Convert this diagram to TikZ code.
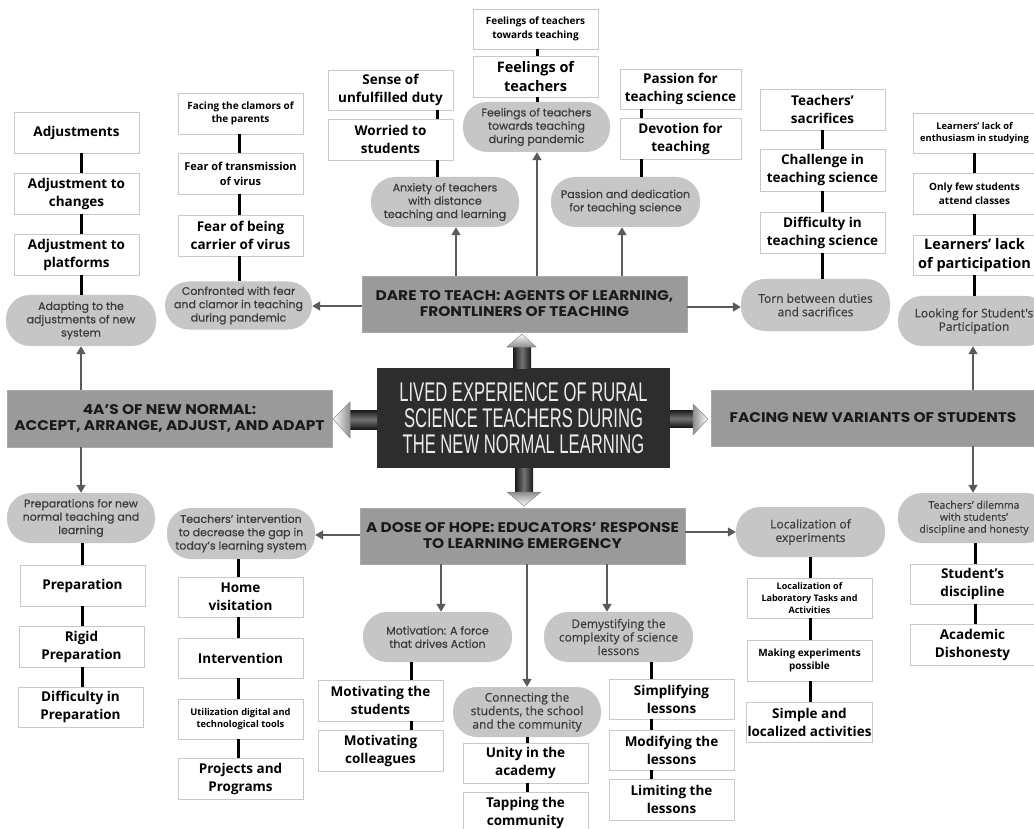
\documentclass[tikz,border=0pt]{standalone}
\usepackage{fontspec}
\setmainfont{Open Sans}
\newfontfamily\pop{Poppins}[FakeBold=0.5]
\newfontfamily\osm{Open Sans}[FakeBold=0.35]
\newfontfamily\hdrfont{Poppins}[FakeStretch=1.1]
\newfontfamily\cond{Liberation Sans}[FakeStretch=0.615]
\usetikzlibrary{arrows.meta}
\definecolor{boxline}{HTML}{C8C8C8}
\definecolor{ovalfill}{HTML}{C6C6C6}
\definecolor{ovaltext}{HTML}{3C3C3C}
\definecolor{hdrfill}{HTML}{9A9A9A}
\definecolor{hdrtext}{HTML}{1A1A1A}
\definecolor{corefill}{HTML}{2D2D2D}
\definecolor{arrcol}{HTML}{5A5A5A}
\tikzset{
  box/.style={draw=boxline, fill=white, line width=0.8pt, inner sep=1pt, align=center,
    minimum width=125pt, minimum height=41pt, font=\bfseries\fontsize{13.5}{18}\selectfont},
  bnine/.style={font=\bfseries\fontsize{9.3}{12.5}\selectfont},
  bten/.style={font=\bfseries\fontsize{10}{13.5}\selectfont},
  beleven/.style={font=\bfseries\fontsize{11}{15}\selectfont},
  bfourteen/.style={font=\bfseries\fontsize{14.5}{18.5}\selectfont},
  oval/.style={fill=ovalfill, rounded corners=24pt, inner sep=1pt, align=center, text=ovaltext,
    minimum height=50pt, font=\pop\fontsize{11}{13.3}\selectfont},
  ovalo/.style={oval, font=\osm\fontsize{12}{13.5}\selectfont},
  hdr/.style={fill=hdrfill, draw=hdrfill!85!white, line width=0.6pt, inner sep=1pt, align=center,
    text=hdrtext, minimum height=56pt, minimum width=325pt, font=\hdrfont\bfseries\fontsize{14}{16}\selectfont},
  corebox/.style={fill=corefill, inner sep=1pt, align=center, text=white!92!black,
    minimum width=293pt, minimum height=100pt, font=\cond\fontsize{27}{26}\selectfont},
  link/.style={line width=3pt, black},
  arr/.style={line width=1.4pt, arrcol, -{Triangle[width=9pt,length=8pt]}},
}
\begin{document}
\begin{tikzpicture}[x=1pt,y=-1pt]
\clip (0,0) rectangle (1034,829);
\fill[white] (0,0) rectangle (1034,829);

% ---------- main boxes
\node[hdr] (dare) at (524.5,304) {DARE TO TEACH: AGENTS OF LEARNING,\\FRONTLINERS OF TEACHING};
\node[hdr, minimum height=57pt] (fourA) at (169.5,418.5) {4A’S OF NEW NORMAL:\\ACCEPT, ARRANGE, ADJUST, AND ADAPT};
\node[hdr, minimum width=324pt] (facing) at (873,418) {FACING NEW VARIANTS OF STUDENTS};
\node[hdr] (dose) at (522.5,536) {A DOSE OF HOPE: EDUCATORS’ RESPONSE\\TO LEARNING EMERGENCY};
\node[corebox] (core) at (523.5,418) {LIVED EXPERIENCE OF RURAL\\SCIENCE TEACHERS DURING\\THE NEW NORMAL LEARNING};

% ---------- block arrows from the core
% up
\shade[left color=black!90, right color=black!90, middle color=black!55] (513,347) rectangle (531,368);
\shade[top color=white, bottom color=black!45, draw=black!45, line width=0.5pt] (507,347) -- (522,334) -- (536,347) -- cycle;
% down
\shade[left color=black!90, right color=black!90, middle color=black!55] (515,468) rectangle (533,492);
\shade[bottom color=white, top color=black!45, draw=black!45, line width=0.5pt] (507,492) -- (524,506) -- (541,492) -- cycle;
% left
\shade[top color=black!90, bottom color=black!90, middle color=black!55] (350,410) rectangle (377,429);
\shade[left color=white, right color=black!45, draw=black!45, line width=0.5pt] (350,402) -- (333,419) -- (350,438) -- cycle;
% right
\shade[top color=black!90, bottom color=black!90, middle color=black!55] (670,410) rectangle (693,427);
\shade[right color=white, left color=black!45, draw=black!45, line width=0.5pt] (693,404) -- (708,419) -- (693,435) -- cycle;

% ---------- ovals
\node[oval, minimum width=150pt, minimum height=51pt] (adapting) at (81,320.5) {Adapting to the\\adjustments of new\\system};
\node[oval, minimum width=147pt, minimum height=48pt] (confronted) at (238.5,305.5) {Confronted with fear\\and clamor in teaching\\during pandemic};
\node[oval, minimum width=148pt] (anxiety) at (445,202) {Anxiety of teachers\\with distance\\teaching and learning};
\node[oval, minimum width=147pt] (feelo) at (536.5,127) {Feelings of teachers\\towards teaching\\during pandemic};
\node[oval, minimum width=149pt] (passo) at (625.5,202) {Passion and dedication\\for teaching science};
\node[ovalo, minimum width=149pt, minimum height=52pt] (torn) at (815.5,305) {Torn between duties\\and sacrifices};
\node[ovalo, minimum width=152pt] (looking) at (974,321) {Looking for Student's\\Participation};
\node[oval, minimum width=148pt] (preps) at (81,518) {Preparations for new\\normal teaching and\\learning};
\node[oval, minimum width=148pt, minimum height=51pt] (intervo) at (241,533.5) {Teachers’ intervention\\to decrease the gap in\\today’s learning system};
\node[oval, minimum width=149pt] (motiv) at (437.5,637) {Motivation: A force\\that drives Action};
\node[ovalo, minimum width=148pt] (connect) at (527,712) {Connecting the\\students, the school\\and the community};
\node[ovalo, minimum width=149pt] (demyst) at (618.5,637) {Demystifying the\\complexity of science\\lessons};
\node[ovalo, minimum width=149pt] (localo) at (810.5,532) {Localization of\\experiments};
\node[ovalo, minimum width=152pt, font=\osm\fontsize{10.5}{12}\selectfont] (dilemma) at (974,518) {Teachers’ dilemma\\with students’\\discipline and honesty};

% ---------- boxes
\node[box] (adj1) at (76.5,132.5) {Adjustments};
\node[box] (adj2) at (76.5,193.5) {Adjustment to\\changes};
\node[box] (adj3) at (76.5,254.5) {Adjustment to\\platforms};

\node[box, bten] (fear1) at (240.5,113.5) {Facing the clamors of\\the parents};
\node[box, beleven] (fear2) at (240.5,173.5) {Fear of transmission\\of virus};
\node[box] (fear3) at (240.5,235.5) {Fear of being\\carrier of virus};

\node[box, minimum height=40pt] (sense) at (390.5,90) {Sense of\\unfulfilled duty};
\node[box] (worried) at (390.5,139.5) {Worried to\\students};

\node[box, bten, minimum height=40pt] (feel1) at (535.5,29) {Feelings of teachers\\towards teaching};
\node[box, bfourteen] (feel2) at (535.5,76.5) {Feelings of\\teachers};

\node[box, minimum width=121pt, minimum height=40pt] (pass1) at (680.5,89) {Passion for\\teaching science};
\node[box, minimum width=121pt] (pass2) at (680.5,138.5) {Devotion for\\teaching};

\node[box] (sac1) at (822.5,109.5) {Teachers’\\sacrifices};
\node[box, minimum height=42pt] (sac2) at (822.5,170) {Challenge in\\teaching science};
\node[box] (sac3) at (822.5,232.5) {Difficulty in\\teaching science};

\node[box, bnine, minimum width=123pt, minimum height=40pt] (lrn1) at (974.5,133) {Learners’ lack of\\enthusiasm in studying};
\node[box, bten, minimum width=123pt] (lrn2) at (974.5,193.5) {Only few students\\attend classes};
\node[box, bfourteen, minimum width=123pt, minimum height=40pt] (lrn3) at (974.5,255) {Learners’ lack\\of participation};

\node[box] (prep1) at (82.5,585.5) {Preparation};
\node[box] (prep2) at (81.5,646.5) {Rigid\\Preparation};
\node[box, minimum height=40pt] (prep3) at (80.5,707) {Difficulty in\\Preparation};

\node[box, minimum height=40pt] (int1) at (240.5,597) {Home\\visitation};
\node[box, minimum height=40pt] (int2) at (240.5,658) {Intervention};
\node[box, bnine, minimum height=40pt] (int3) at (240.5,719) {Utilization digital and\\technological tools};
\node[box] (int4) at (240.5,778.5) {Projects and\\Programs};

\node[box] (mot1) at (380.5,700.5) {Motivating the\\students};
\node[box] (mot2) at (380.5,750.5) {Motivating\\colleagues};

\node[box, minimum height=40pt] (uni1) at (525.5,763) {Unity in the\\academy};
\node[box, minimum height=42pt] (uni2) at (525.5,813) {Tapping the\\community};

\node[box, minimum height=40pt] (sim1) at (671.5,699) {Simplifying\\lessons};
\node[box, minimum height=40pt] (sim2) at (671.5,750) {Modifying the\\lessons};
\node[box] (sim3) at (671.5,799.5) {Limiting the\\lessons};

\node[box, font=\bfseries\fontsize{9}{12}\selectfont, minimum height=40pt] (loc1) at (809.5,598) {Localization of\\Laboratory Tasks and\\Activities};
\node[box, bten] (loc2) at (809.5,660.5) {Making experiments\\possible};
\node[box, minimum height=40pt] (loc3) at (809.5,722) {Simple and\\localized activities};

\node[box, minimum height=40pt] (dis1) at (972.5,584) {Student’s\\discipline};
\node[box] (dis2) at (972.5,644.5) {Academic\\Dishonesty};

% ---------- x positions of the vertical lines
\coordinate (xA) at (81,0);
\coordinate (xB) at (239,0);
\coordinate (xC) at (437,0);
\coordinate (xD) at (537,0);
\coordinate (xE) at (641,0);
\coordinate (xF) at (822,0);
\coordinate (xG) at (974,0);
\coordinate (xH) at (82,0);
\coordinate (xI) at (238,0);
\coordinate (xJ) at (411,0);
\coordinate (xK) at (527,0);
\coordinate (xL) at (651,0);
\coordinate (xM) at (810,0);
\coordinate (xN) at (975,0);
\coordinate (aA) at (456,0);
\coordinate (aB) at (537,0);
\coordinate (aC) at (622,0);
\coordinate (aD) at (973,0);
\coordinate (aE) at (441,0);
\coordinate (aF) at (527,0);
\coordinate (aG) at (607,0);
\coordinate (yA) at (0,306);
\coordinate (yB) at (0,307);
\coordinate (yC) at (0,535);
\coordinate (yD) at (0,532);

% ---------- black links
\draw[link] (adj1.south -| xA) -- (adj2.north -| xA);
\draw[link] (adj2.south -| xA) -- (adj3.north -| xA);
\draw[link] (adj3.south -| xA) -- (adapting.north -| xA);
\draw[link] (fear1.south -| xB) -- (fear2.north -| xB);
\draw[link] (fear2.south -| xB) -- (fear3.north -| xB);
\draw[link] (fear3.south -| xB) -- (confronted.north -| xB);
\draw[link] (sense.south -| xC) -- (worried.north -| xC);
\draw[link] (worried.south -| xC) -- (anxiety.north -| xC);
\draw[link] (feel1.south -| xD) -- (feel2.north -| xD);
\draw[link] (feel2.south -| xD) -- (feelo.north -| xD);
\draw[link] (pass1.south -| xE) -- (pass2.north -| xE);
\draw[link] (pass2.south -| xE) -- (passo.north -| xE);
\draw[link] (sac1.south -| xF) -- (sac2.north -| xF);
\draw[link] (sac2.south -| xF) -- (sac3.north -| xF);
\draw[link] (sac3.south -| xF) -- (torn.north -| xF);
\draw[link] (lrn1.south -| xG) -- (lrn2.north -| xG);
\draw[link] (lrn2.south -| xG) -- (lrn3.north -| xG);
\draw[link] (lrn3.south -| xG) -- (looking.north -| xG);
\draw[link] (preps.south -| xH) -- (prep1.north -| xH);
\draw[link] (prep1.south -| xH) -- (prep2.north -| xH);
\draw[link] (prep2.south -| xH) -- (prep3.north -| xH);
\draw[link] (intervo.south -| xI) -- (int1.north -| xI);
\draw[link] (int1.south -| xI) -- (int2.north -| xI);
\draw[link] (int2.south -| xI) -- (int3.north -| xI);
\draw[link] (int3.south -| xI) -- (int4.north -| xI);
\draw[link] (motiv.south -| xJ) -- (mot1.north -| xJ);
\draw[link] (mot1.south -| xJ) -- (mot2.north -| xJ);
\draw[link] (connect.south -| xK) -- (uni1.north -| xK);
\draw[link] (uni1.south -| xK) -- (uni2.north -| xK);
\draw[link] (demyst.south -| xL) -- (sim1.north -| xL);
\draw[link] (sim1.south -| xL) -- (sim2.north -| xL);
\draw[link] (sim2.south -| xL) -- (sim3.north -| xL);
\draw[link] (localo.south -| xM) -- (loc1.north -| xM);
\draw[link] (loc1.south -| xM) -- (loc2.north -| xM);
\draw[link] (loc2.south -| xM) -- (loc3.north -| xM);
\draw[link] (dilemma.south -| xN) -- (dis1.north -| xN);
\draw[link] (dis1.south -| xN) -- (dis2.north -| xN);

% ---------- gray arrows
\draw[arr] (dare.north -| aA) -- (anxiety.south -| aA);
\draw[arr] (dare.north -| aB) -- (feelo.south -| aB);
\draw[arr] (dare.north -| aC) -- (passo.south -| aC);
\draw[arr] (dare.west |- yA) -- (confronted.east |- yA);
\draw[arr] (dare.east |- yB) -- (torn.west |- yB);
\draw[arr] (fourA.north -| xA) -- (adapting.south -| xA);
\draw[arr] (fourA.south -| xA) -- (preps.north -| xA);
\draw[arr] (facing.north -| aD) -- (looking.south -| aD);
\draw[arr] (facing.south -| aD) -- (dilemma.north -| aD);
\draw[arr] (dose.west |- yC) -- (intervo.east |- yC);
\draw[arr] (dose.south -| aE) -- (motiv.north -| aE);
\draw[arr] (dose.south -| aF) -- (connect.north -| aF);
\draw[arr] (dose.south -| aG) -- (demyst.north -| aG);
\draw[arr] (dose.east |- yD) -- (localo.west |- yD);
\end{tikzpicture}
\end{document}
